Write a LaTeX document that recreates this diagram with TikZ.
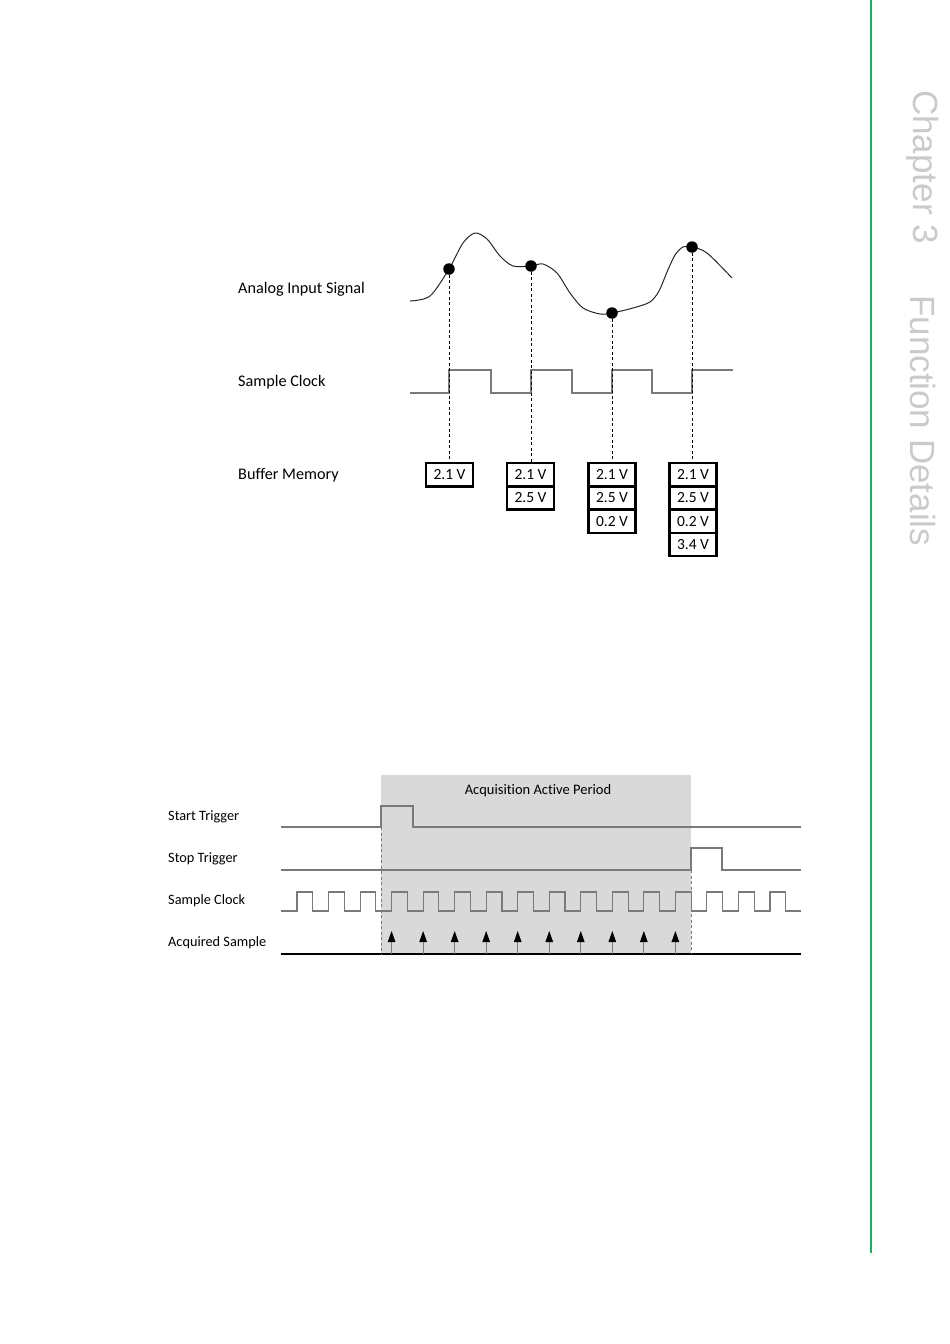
\documentclass[tikz,border=0pt]{standalone}
\usepackage{fontspec}
\setmainfont{Carlito}[Ligatures={NoCommon}]
\newfontfamily\chapfont{Liberation Sans}
\usetikzlibrary{arrows.meta}
\definecolor{sig}{HTML}{7A7A7A}
\definecolor{actgray}{HTML}{D9D9D9}
\definecolor{chapgreen}{HTML}{1DB15E}
\definecolor{chapgray}{HTML}{CACACA}
\tikzset{
  lbl/.style={anchor=west, inner sep=0pt, font=\fontsize{16.2}{18}\selectfont},
  lblsmall/.style={anchor=west, inner sep=0pt, font=\fontsize{14.3}{16}\selectfont},
  dot/.style={circle, fill=black, inner sep=0pt, minimum size=11.5pt},
  cell/.style={draw=black, line width=2.4pt, minimum width=47pt, minimum height=23.3pt, inner sep=0pt, font=\fontsize{15.5}{17}\selectfont},
  wave/.style={draw=sig, line width=1.1pt},
  guide/.style={draw=black, line width=1pt, dash pattern=on 3pt off 2.5pt},
  guidegray/.style={draw=sig, line width=0.9pt, dash pattern=on 3pt off 2.5pt},
  samplearrow/.style={draw=sig, line width=1pt, -{Triangle[length=11pt,width=7.5pt,color=black]}},
}
\begin{document}
\begin{tikzpicture}[x=1pt,y=-1pt]
\useasboundingbox (0,0) rectangle (950,1344);

% side bar
\draw[chapgreen, line width=2pt] (871,0) coordinate (gtop) -- (871,1253) coordinate (gbot);
\node[rotate=-90, anchor=west, inner sep=0pt, text=chapgray, font=\chapfont\fontsize{35}{40}\selectfont] (ch) at (923,90) {Chapter 3};
\node[rotate=-90, anchor=west, inner sep=0pt, text=chapgray, font=\chapfont\fontsize{35}{40}\selectfont] (fd) at (923,295) {Function Details};

% ===== top diagram =====
\node[lbl] (lA) at (238,289) {Analog Input Signal};
\node[lbl] (lS) at (238,382) {Sample Clock};
\node[lbl] (lB) at (238,475) {Buffer Memory};

\draw[black!85, line width=1pt] plot[smooth, tension=0.5] coordinates {
 (410,301) (430,296) (449,269) (463,243) (475,233) (487,239) (500,256) (513,266)
 (531,266) (543,264) (557,273) (570,293) (583,308) (600,314) (612,313) (633,308)
 (650,302) (659,291) (667,272) (675,255) (683,247) (692,247) (707,253) (732,278)};

% sample clock
\draw[wave] (410,393) -- (449,393) -- (449,370) -- (491,370) -- (491,393) -- (531,393) -- (531,370)
 -- (572,370) -- (572,393) -- (612,393) -- (612,370) -- (652,370) -- (652,393) -- (692,393) -- (692,370) -- (733,370);

% dots
\node[dot] (d1) at (449,269) {};
\node[dot] (d2) at (531,266) {};
\node[dot] (d3) at (612,313) {};
\node[dot] (d4) at (692,247) {};

% buffer cells
\node[cell] (b1a) at (449.5,474.7) {2.1 V};

\node[cell] (b2a) at (530.5,474.7) {2.1 V};
\node[cell] (b2b) at (530.5,498.0) {2.5 V};

\node[cell] (b3a) at (612,474.7) {2.1 V};
\node[cell] (b3b) at (612,498.0) {2.5 V};
\node[cell] (b3c) at (612,521.3) {0.2 V};

\node[cell] (b4a) at (693,474.7) {2.1 V};
\node[cell] (b4b) at (693,498.0) {2.5 V};
\node[cell] (b4c) at (693,521.3) {0.2 V};
\node[cell] (b4d) at (693,544.6) {3.4 V};

\draw[guide] (d1) -- (d1 |- b1a.north);
\draw[guide] (d2) -- (d2 |- b2a.north);
\draw[guide] (d3) -- (d3 |- b3a.north);
\draw[guide] (d4) -- (d4 |- b4a.north);

% ===== bottom diagram =====
\fill[actgray] (381,775) rectangle (691,954);
\node[inner sep=0pt, font=\fontsize{14.5}{16}\selectfont] (aap) at (538,791) {Acquisition Active Period};

\node[lblsmall] (lst) at (168,817) {Start Trigger};
\node[lblsmall] (lsp) at (168,859) {Stop Trigger};
\node[lblsmall] (lsc) at (168,901) {Sample Clock};
\node[lblsmall] (las) at (168,943) {Acquired Sample};

% start trigger
\draw[wave] (281,827) -- (381,827) -- (381,806) -- (413,806) -- (413,827) -- (801,827);
% stop trigger
\draw[wave] (281,870) -- (691,870) -- (691,848) -- (722,848) -- (722,870) -- (801,870);
% sample clock
\draw[wave] (281,911)
 \foreach \i in {0,...,15} { -- ({297+31.53*\i},911) -- ({297+31.53*\i},892) -- ({312.8+31.53*\i},892) -- ({312.8+31.53*\i},911) }
 -- (801,911);
% acquired sample baseline
\draw[black, line width=1.1pt] (281,954) coordinate (base0) -- (801,954) coordinate (base1);
% dashed guides
\draw[guidegray] (381,827) -- (381,954);
\draw[guidegray] (691,870) -- (691,954);
% sample arrows
\foreach \i in {3,...,12} {
  \coordinate (sa\i) at ({297+31.53*\i},954);
  \coordinate (st\i) at ({297+31.53*\i},931);
  \draw[samplearrow] (sa\i) -- (st\i);
}
\end{tikzpicture}
\end{document}
